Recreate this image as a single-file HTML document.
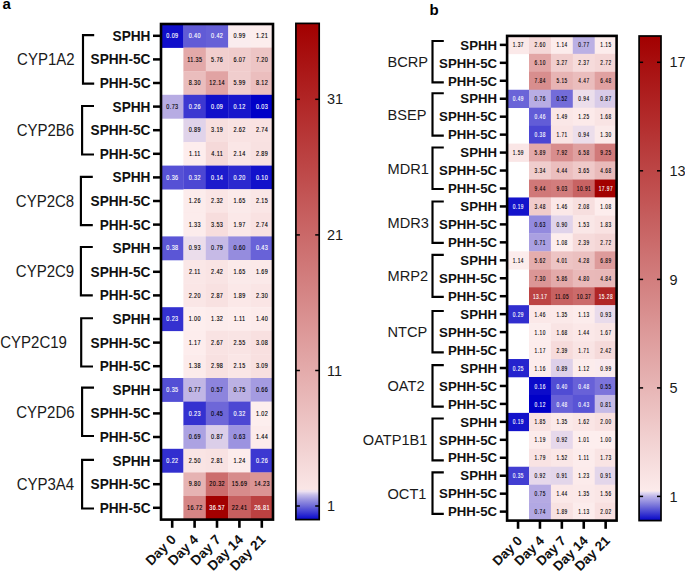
<!DOCTYPE html>
<html><head><meta charset="utf-8"><style>
html,body{margin:0;padding:0;background:#fff;}
body{width:685px;height:571px;overflow:hidden;}
svg{display:block;}
text{font-family:"Liberation Sans",sans-serif;}
.cv{text-anchor:middle;}
.rl{text-anchor:end;font-weight:bold;fill:#111;}
.gl{text-anchor:end;fill:#1a1a1a;}
.dl{text-anchor:end;font-weight:bold;fill:#111;}
.cl{fill:#1a1a1a;}
.pl{font-weight:bold;font-size:15px;fill:#000;}
</style></head><body>
<svg width="685" height="571" viewBox="0 0 685 571">
<text x="2.6" y="8.8" class="pl">a</text>
<text x="429.4" y="14.7" class="pl">b</text>
<rect x="161.00" y="24.00" width="22.70" height="23.90" fill="#100fca"/>
<rect x="183.40" y="24.00" width="22.70" height="23.90" fill="#615bd6"/>
<rect x="205.80" y="24.00" width="22.70" height="23.90" fill="#6660d7"/>
<rect x="228.20" y="24.00" width="22.70" height="23.90" fill="#faecee"/>
<rect x="250.60" y="24.00" width="22.70" height="23.90" fill="#fceded"/>
<rect x="183.40" y="47.60" width="22.70" height="23.90" fill="#e3a9a9"/>
<rect x="205.80" y="47.60" width="22.70" height="23.90" fill="#f1cece"/>
<rect x="228.20" y="47.60" width="22.70" height="23.90" fill="#f0cccc"/>
<rect x="250.60" y="47.60" width="22.70" height="23.90" fill="#edc5c5"/>
<rect x="183.40" y="71.20" width="22.70" height="23.90" fill="#eabdbd"/>
<rect x="205.80" y="71.20" width="22.70" height="23.90" fill="#e1a3a3"/>
<rect x="228.20" y="71.20" width="22.70" height="23.90" fill="#f0cdcd"/>
<rect x="250.60" y="71.20" width="22.70" height="23.90" fill="#ebbebe"/>
<rect x="161.00" y="94.80" width="22.70" height="23.90" fill="#b7ace3"/>
<rect x="183.40" y="94.80" width="22.70" height="23.90" fill="#3c38d1"/>
<rect x="205.80" y="94.80" width="22.70" height="23.90" fill="#100fca"/>
<rect x="228.20" y="94.80" width="22.70" height="23.90" fill="#1716cc"/>
<rect x="250.60" y="94.80" width="22.70" height="23.90" fill="#0000c8"/>
<rect x="183.40" y="118.40" width="22.70" height="23.90" fill="#e0d3ea"/>
<rect x="205.80" y="118.40" width="22.70" height="23.90" fill="#f7dfdf"/>
<rect x="228.20" y="118.40" width="22.70" height="23.90" fill="#f9e3e3"/>
<rect x="250.60" y="118.40" width="22.70" height="23.90" fill="#f9e2e2"/>
<rect x="183.40" y="142.00" width="22.70" height="23.90" fill="#fdeded"/>
<rect x="205.80" y="142.00" width="22.70" height="23.90" fill="#f5d9d9"/>
<rect x="228.20" y="142.00" width="22.70" height="23.90" fill="#fae6e6"/>
<rect x="250.60" y="142.00" width="22.70" height="23.90" fill="#f8e1e1"/>
<rect x="161.00" y="165.60" width="22.70" height="23.90" fill="#5651d5"/>
<rect x="183.40" y="165.60" width="22.70" height="23.90" fill="#4c47d3"/>
<rect x="205.80" y="165.60" width="22.70" height="23.90" fill="#1d1bcc"/>
<rect x="228.20" y="165.60" width="22.70" height="23.90" fill="#2c2acf"/>
<rect x="250.60" y="165.60" width="22.70" height="23.90" fill="#1211cb"/>
<rect x="183.40" y="189.20" width="22.70" height="23.90" fill="#fcecec"/>
<rect x="205.80" y="189.20" width="22.70" height="23.90" fill="#fae5e5"/>
<rect x="228.20" y="189.20" width="22.70" height="23.90" fill="#fbeaea"/>
<rect x="250.60" y="189.20" width="22.70" height="23.90" fill="#fae6e6"/>
<rect x="183.40" y="212.80" width="22.70" height="23.90" fill="#fcecec"/>
<rect x="205.80" y="212.80" width="22.70" height="23.90" fill="#f7dddd"/>
<rect x="228.20" y="212.80" width="22.70" height="23.90" fill="#fbe8e8"/>
<rect x="250.60" y="212.80" width="22.70" height="23.90" fill="#f9e2e2"/>
<rect x="161.00" y="236.40" width="22.70" height="23.90" fill="#5b56d6"/>
<rect x="183.40" y="236.40" width="22.70" height="23.90" fill="#ebddeb"/>
<rect x="205.80" y="236.40" width="22.70" height="23.90" fill="#c6bae6"/>
<rect x="228.20" y="236.40" width="22.70" height="23.90" fill="#958cde"/>
<rect x="250.60" y="236.40" width="22.70" height="23.90" fill="#6862d8"/>
<rect x="183.40" y="260.00" width="22.70" height="23.90" fill="#fae7e7"/>
<rect x="205.80" y="260.00" width="22.70" height="23.90" fill="#f9e4e4"/>
<rect x="228.20" y="260.00" width="22.70" height="23.90" fill="#fbeaea"/>
<rect x="250.60" y="260.00" width="22.70" height="23.90" fill="#fbe9e9"/>
<rect x="183.40" y="283.60" width="22.70" height="23.90" fill="#fae6e6"/>
<rect x="205.80" y="283.60" width="22.70" height="23.90" fill="#f8e1e1"/>
<rect x="228.20" y="283.60" width="22.70" height="23.90" fill="#fbe8e8"/>
<rect x="250.60" y="283.60" width="22.70" height="23.90" fill="#fae5e5"/>
<rect x="161.00" y="307.20" width="22.70" height="23.90" fill="#3431d0"/>
<rect x="183.40" y="307.20" width="22.70" height="23.90" fill="#fdeeee"/>
<rect x="205.80" y="307.20" width="22.70" height="23.90" fill="#fcecec"/>
<rect x="228.20" y="307.20" width="22.70" height="23.90" fill="#fdeded"/>
<rect x="250.60" y="307.20" width="22.70" height="23.90" fill="#fcebeb"/>
<rect x="183.40" y="330.80" width="22.70" height="23.90" fill="#fdeded"/>
<rect x="205.80" y="330.80" width="22.70" height="23.90" fill="#f9e3e3"/>
<rect x="228.20" y="330.80" width="22.70" height="23.90" fill="#f9e4e4"/>
<rect x="250.60" y="330.80" width="22.70" height="23.90" fill="#f8e0e0"/>
<rect x="183.40" y="354.40" width="22.70" height="23.90" fill="#fcebeb"/>
<rect x="205.80" y="354.40" width="22.70" height="23.90" fill="#f8e1e1"/>
<rect x="228.20" y="354.40" width="22.70" height="23.90" fill="#fae6e6"/>
<rect x="250.60" y="354.40" width="22.70" height="23.90" fill="#f8e0e0"/>
<rect x="161.00" y="378.00" width="22.70" height="23.90" fill="#534fd5"/>
<rect x="183.40" y="378.00" width="22.70" height="23.90" fill="#c1b6e5"/>
<rect x="205.80" y="378.00" width="22.70" height="23.90" fill="#8d84dd"/>
<rect x="228.20" y="378.00" width="22.70" height="23.90" fill="#bcb1e4"/>
<rect x="250.60" y="378.00" width="22.70" height="23.90" fill="#a49be1"/>
<rect x="183.40" y="401.60" width="22.70" height="23.90" fill="#3431d0"/>
<rect x="205.80" y="401.60" width="22.70" height="23.90" fill="#6e67d8"/>
<rect x="228.20" y="401.60" width="22.70" height="23.90" fill="#4c47d3"/>
<rect x="250.60" y="401.60" width="22.70" height="23.90" fill="#fdeeee"/>
<rect x="183.40" y="425.20" width="22.70" height="23.90" fill="#aca2e2"/>
<rect x="205.80" y="425.20" width="22.70" height="23.90" fill="#dbcee9"/>
<rect x="228.20" y="425.20" width="22.70" height="23.90" fill="#9c93e0"/>
<rect x="250.60" y="425.20" width="22.70" height="23.90" fill="#fcebeb"/>
<rect x="161.00" y="448.80" width="22.70" height="23.90" fill="#322fcf"/>
<rect x="183.40" y="448.80" width="22.70" height="23.90" fill="#f9e4e4"/>
<rect x="205.80" y="448.80" width="22.70" height="23.90" fill="#f8e2e2"/>
<rect x="228.20" y="448.80" width="22.70" height="23.90" fill="#fcecec"/>
<rect x="250.60" y="448.80" width="22.70" height="23.90" fill="#3c38d1"/>
<rect x="183.40" y="472.40" width="22.70" height="23.90" fill="#e6b3b3"/>
<rect x="205.80" y="472.40" width="22.70" height="23.90" fill="#cc6d6d"/>
<rect x="228.20" y="472.40" width="22.70" height="23.90" fill="#d78c8c"/>
<rect x="250.60" y="472.40" width="22.70" height="23.90" fill="#db9595"/>
<rect x="183.40" y="496.00" width="22.70" height="23.90" fill="#d58585"/>
<rect x="205.80" y="496.00" width="22.70" height="23.90" fill="#a20000"/>
<rect x="228.20" y="496.00" width="22.70" height="23.90" fill="#c65f5f"/>
<rect x="250.60" y="496.00" width="22.70" height="23.90" fill="#bb4141"/>
<text x="0" y="0" class="cv" fill="#fff" stroke="#fff" stroke-width="0.12" style="font-size:6.40px;letter-spacing:0.45px" transform="translate(172.39 38.09) scale(0.860 1)">0.09</text>
<text x="0" y="0" class="cv" fill="#fff" stroke="#fff" stroke-width="0.12" style="font-size:6.40px;letter-spacing:0.45px" transform="translate(194.79 38.09) scale(0.860 1)">0.40</text>
<text x="0" y="0" class="cv" fill="#fff" stroke="#fff" stroke-width="0.12" style="font-size:6.40px;letter-spacing:0.45px" transform="translate(217.19 38.09) scale(0.860 1)">0.42</text>
<text x="0" y="0" class="cv" fill="#000" stroke="#000" stroke-width="0.12" style="font-size:6.40px;letter-spacing:0.45px" transform="translate(239.59 38.09) scale(0.860 1)">0.99</text>
<text x="0" y="0" class="cv" fill="#000" stroke="#000" stroke-width="0.12" style="font-size:6.40px;letter-spacing:0.45px" transform="translate(261.99 38.09) scale(0.860 1)">1.21</text>
<text x="0" y="0" class="cv" fill="#000" stroke="#000" stroke-width="0.12" style="font-size:6.40px;letter-spacing:0.45px" transform="translate(194.79 61.69) scale(0.860 1)">11.35</text>
<text x="0" y="0" class="cv" fill="#000" stroke="#000" stroke-width="0.12" style="font-size:6.40px;letter-spacing:0.45px" transform="translate(217.19 61.69) scale(0.860 1)">5.76</text>
<text x="0" y="0" class="cv" fill="#000" stroke="#000" stroke-width="0.12" style="font-size:6.40px;letter-spacing:0.45px" transform="translate(239.59 61.69) scale(0.860 1)">6.07</text>
<text x="0" y="0" class="cv" fill="#000" stroke="#000" stroke-width="0.12" style="font-size:6.40px;letter-spacing:0.45px" transform="translate(261.99 61.69) scale(0.860 1)">7.20</text>
<text x="0" y="0" class="cv" fill="#000" stroke="#000" stroke-width="0.12" style="font-size:6.40px;letter-spacing:0.45px" transform="translate(194.79 85.29) scale(0.860 1)">8.30</text>
<text x="0" y="0" class="cv" fill="#000" stroke="#000" stroke-width="0.12" style="font-size:6.40px;letter-spacing:0.45px" transform="translate(217.19 85.29) scale(0.860 1)">12.14</text>
<text x="0" y="0" class="cv" fill="#000" stroke="#000" stroke-width="0.12" style="font-size:6.40px;letter-spacing:0.45px" transform="translate(239.59 85.29) scale(0.860 1)">5.99</text>
<text x="0" y="0" class="cv" fill="#000" stroke="#000" stroke-width="0.12" style="font-size:6.40px;letter-spacing:0.45px" transform="translate(261.99 85.29) scale(0.860 1)">8.12</text>
<text x="0" y="0" class="cv" fill="#000" stroke="#000" stroke-width="0.12" style="font-size:6.40px;letter-spacing:0.45px" transform="translate(172.39 108.89) scale(0.860 1)">0.73</text>
<text x="0" y="0" class="cv" fill="#fff" stroke="#fff" stroke-width="0.12" style="font-size:6.40px;letter-spacing:0.45px" transform="translate(194.79 108.89) scale(0.860 1)">0.26</text>
<text x="0" y="0" class="cv" fill="#fff" stroke="#fff" stroke-width="0.12" style="font-size:6.40px;letter-spacing:0.45px" transform="translate(217.19 108.89) scale(0.860 1)">0.09</text>
<text x="0" y="0" class="cv" fill="#fff" stroke="#fff" stroke-width="0.12" style="font-size:6.40px;letter-spacing:0.45px" transform="translate(239.59 108.89) scale(0.860 1)">0.12</text>
<text x="0" y="0" class="cv" fill="#fff" stroke="#fff" stroke-width="0.12" style="font-size:6.40px;letter-spacing:0.45px" transform="translate(261.99 108.89) scale(0.860 1)">0.03</text>
<text x="0" y="0" class="cv" fill="#000" stroke="#000" stroke-width="0.12" style="font-size:6.40px;letter-spacing:0.45px" transform="translate(194.79 132.49) scale(0.860 1)">0.89</text>
<text x="0" y="0" class="cv" fill="#000" stroke="#000" stroke-width="0.12" style="font-size:6.40px;letter-spacing:0.45px" transform="translate(217.19 132.49) scale(0.860 1)">3.19</text>
<text x="0" y="0" class="cv" fill="#000" stroke="#000" stroke-width="0.12" style="font-size:6.40px;letter-spacing:0.45px" transform="translate(239.59 132.49) scale(0.860 1)">2.62</text>
<text x="0" y="0" class="cv" fill="#000" stroke="#000" stroke-width="0.12" style="font-size:6.40px;letter-spacing:0.45px" transform="translate(261.99 132.49) scale(0.860 1)">2.74</text>
<text x="0" y="0" class="cv" fill="#000" stroke="#000" stroke-width="0.12" style="font-size:6.40px;letter-spacing:0.45px" transform="translate(194.79 156.09) scale(0.860 1)">1.11</text>
<text x="0" y="0" class="cv" fill="#000" stroke="#000" stroke-width="0.12" style="font-size:6.40px;letter-spacing:0.45px" transform="translate(217.19 156.09) scale(0.860 1)">4.11</text>
<text x="0" y="0" class="cv" fill="#000" stroke="#000" stroke-width="0.12" style="font-size:6.40px;letter-spacing:0.45px" transform="translate(239.59 156.09) scale(0.860 1)">2.14</text>
<text x="0" y="0" class="cv" fill="#000" stroke="#000" stroke-width="0.12" style="font-size:6.40px;letter-spacing:0.45px" transform="translate(261.99 156.09) scale(0.860 1)">2.89</text>
<text x="0" y="0" class="cv" fill="#fff" stroke="#fff" stroke-width="0.12" style="font-size:6.40px;letter-spacing:0.45px" transform="translate(172.39 179.69) scale(0.860 1)">0.36</text>
<text x="0" y="0" class="cv" fill="#fff" stroke="#fff" stroke-width="0.12" style="font-size:6.40px;letter-spacing:0.45px" transform="translate(194.79 179.69) scale(0.860 1)">0.32</text>
<text x="0" y="0" class="cv" fill="#fff" stroke="#fff" stroke-width="0.12" style="font-size:6.40px;letter-spacing:0.45px" transform="translate(217.19 179.69) scale(0.860 1)">0.14</text>
<text x="0" y="0" class="cv" fill="#fff" stroke="#fff" stroke-width="0.12" style="font-size:6.40px;letter-spacing:0.45px" transform="translate(239.59 179.69) scale(0.860 1)">0.20</text>
<text x="0" y="0" class="cv" fill="#fff" stroke="#fff" stroke-width="0.12" style="font-size:6.40px;letter-spacing:0.45px" transform="translate(261.99 179.69) scale(0.860 1)">0.10</text>
<text x="0" y="0" class="cv" fill="#000" stroke="#000" stroke-width="0.12" style="font-size:6.40px;letter-spacing:0.45px" transform="translate(194.79 203.29) scale(0.860 1)">1.26</text>
<text x="0" y="0" class="cv" fill="#000" stroke="#000" stroke-width="0.12" style="font-size:6.40px;letter-spacing:0.45px" transform="translate(217.19 203.29) scale(0.860 1)">2.32</text>
<text x="0" y="0" class="cv" fill="#000" stroke="#000" stroke-width="0.12" style="font-size:6.40px;letter-spacing:0.45px" transform="translate(239.59 203.29) scale(0.860 1)">1.65</text>
<text x="0" y="0" class="cv" fill="#000" stroke="#000" stroke-width="0.12" style="font-size:6.40px;letter-spacing:0.45px" transform="translate(261.99 203.29) scale(0.860 1)">2.15</text>
<text x="0" y="0" class="cv" fill="#000" stroke="#000" stroke-width="0.12" style="font-size:6.40px;letter-spacing:0.45px" transform="translate(194.79 226.89) scale(0.860 1)">1.33</text>
<text x="0" y="0" class="cv" fill="#000" stroke="#000" stroke-width="0.12" style="font-size:6.40px;letter-spacing:0.45px" transform="translate(217.19 226.89) scale(0.860 1)">3.53</text>
<text x="0" y="0" class="cv" fill="#000" stroke="#000" stroke-width="0.12" style="font-size:6.40px;letter-spacing:0.45px" transform="translate(239.59 226.89) scale(0.860 1)">1.97</text>
<text x="0" y="0" class="cv" fill="#000" stroke="#000" stroke-width="0.12" style="font-size:6.40px;letter-spacing:0.45px" transform="translate(261.99 226.89) scale(0.860 1)">2.74</text>
<text x="0" y="0" class="cv" fill="#fff" stroke="#fff" stroke-width="0.12" style="font-size:6.40px;letter-spacing:0.45px" transform="translate(172.39 250.49) scale(0.860 1)">0.38</text>
<text x="0" y="0" class="cv" fill="#000" stroke="#000" stroke-width="0.12" style="font-size:6.40px;letter-spacing:0.45px" transform="translate(194.79 250.49) scale(0.860 1)">0.93</text>
<text x="0" y="0" class="cv" fill="#000" stroke="#000" stroke-width="0.12" style="font-size:6.40px;letter-spacing:0.45px" transform="translate(217.19 250.49) scale(0.860 1)">0.79</text>
<text x="0" y="0" class="cv" fill="#000" stroke="#000" stroke-width="0.12" style="font-size:6.40px;letter-spacing:0.45px" transform="translate(239.59 250.49) scale(0.860 1)">0.60</text>
<text x="0" y="0" class="cv" fill="#fff" stroke="#fff" stroke-width="0.12" style="font-size:6.40px;letter-spacing:0.45px" transform="translate(261.99 250.49) scale(0.860 1)">0.43</text>
<text x="0" y="0" class="cv" fill="#000" stroke="#000" stroke-width="0.12" style="font-size:6.40px;letter-spacing:0.45px" transform="translate(194.79 274.09) scale(0.860 1)">2.11</text>
<text x="0" y="0" class="cv" fill="#000" stroke="#000" stroke-width="0.12" style="font-size:6.40px;letter-spacing:0.45px" transform="translate(217.19 274.09) scale(0.860 1)">2.42</text>
<text x="0" y="0" class="cv" fill="#000" stroke="#000" stroke-width="0.12" style="font-size:6.40px;letter-spacing:0.45px" transform="translate(239.59 274.09) scale(0.860 1)">1.65</text>
<text x="0" y="0" class="cv" fill="#000" stroke="#000" stroke-width="0.12" style="font-size:6.40px;letter-spacing:0.45px" transform="translate(261.99 274.09) scale(0.860 1)">1.69</text>
<text x="0" y="0" class="cv" fill="#000" stroke="#000" stroke-width="0.12" style="font-size:6.40px;letter-spacing:0.45px" transform="translate(194.79 297.69) scale(0.860 1)">2.20</text>
<text x="0" y="0" class="cv" fill="#000" stroke="#000" stroke-width="0.12" style="font-size:6.40px;letter-spacing:0.45px" transform="translate(217.19 297.69) scale(0.860 1)">2.87</text>
<text x="0" y="0" class="cv" fill="#000" stroke="#000" stroke-width="0.12" style="font-size:6.40px;letter-spacing:0.45px" transform="translate(239.59 297.69) scale(0.860 1)">1.89</text>
<text x="0" y="0" class="cv" fill="#000" stroke="#000" stroke-width="0.12" style="font-size:6.40px;letter-spacing:0.45px" transform="translate(261.99 297.69) scale(0.860 1)">2.30</text>
<text x="0" y="0" class="cv" fill="#fff" stroke="#fff" stroke-width="0.12" style="font-size:6.40px;letter-spacing:0.45px" transform="translate(172.39 321.29) scale(0.860 1)">0.23</text>
<text x="0" y="0" class="cv" fill="#000" stroke="#000" stroke-width="0.12" style="font-size:6.40px;letter-spacing:0.45px" transform="translate(194.79 321.29) scale(0.860 1)">1.00</text>
<text x="0" y="0" class="cv" fill="#000" stroke="#000" stroke-width="0.12" style="font-size:6.40px;letter-spacing:0.45px" transform="translate(217.19 321.29) scale(0.860 1)">1.32</text>
<text x="0" y="0" class="cv" fill="#000" stroke="#000" stroke-width="0.12" style="font-size:6.40px;letter-spacing:0.45px" transform="translate(239.59 321.29) scale(0.860 1)">1.11</text>
<text x="0" y="0" class="cv" fill="#000" stroke="#000" stroke-width="0.12" style="font-size:6.40px;letter-spacing:0.45px" transform="translate(261.99 321.29) scale(0.860 1)">1.40</text>
<text x="0" y="0" class="cv" fill="#000" stroke="#000" stroke-width="0.12" style="font-size:6.40px;letter-spacing:0.45px" transform="translate(194.79 344.89) scale(0.860 1)">1.17</text>
<text x="0" y="0" class="cv" fill="#000" stroke="#000" stroke-width="0.12" style="font-size:6.40px;letter-spacing:0.45px" transform="translate(217.19 344.89) scale(0.860 1)">2.67</text>
<text x="0" y="0" class="cv" fill="#000" stroke="#000" stroke-width="0.12" style="font-size:6.40px;letter-spacing:0.45px" transform="translate(239.59 344.89) scale(0.860 1)">2.55</text>
<text x="0" y="0" class="cv" fill="#000" stroke="#000" stroke-width="0.12" style="font-size:6.40px;letter-spacing:0.45px" transform="translate(261.99 344.89) scale(0.860 1)">3.08</text>
<text x="0" y="0" class="cv" fill="#000" stroke="#000" stroke-width="0.12" style="font-size:6.40px;letter-spacing:0.45px" transform="translate(194.79 368.49) scale(0.860 1)">1.38</text>
<text x="0" y="0" class="cv" fill="#000" stroke="#000" stroke-width="0.12" style="font-size:6.40px;letter-spacing:0.45px" transform="translate(217.19 368.49) scale(0.860 1)">2.98</text>
<text x="0" y="0" class="cv" fill="#000" stroke="#000" stroke-width="0.12" style="font-size:6.40px;letter-spacing:0.45px" transform="translate(239.59 368.49) scale(0.860 1)">2.15</text>
<text x="0" y="0" class="cv" fill="#000" stroke="#000" stroke-width="0.12" style="font-size:6.40px;letter-spacing:0.45px" transform="translate(261.99 368.49) scale(0.860 1)">3.09</text>
<text x="0" y="0" class="cv" fill="#fff" stroke="#fff" stroke-width="0.12" style="font-size:6.40px;letter-spacing:0.45px" transform="translate(172.39 392.09) scale(0.860 1)">0.35</text>
<text x="0" y="0" class="cv" fill="#000" stroke="#000" stroke-width="0.12" style="font-size:6.40px;letter-spacing:0.45px" transform="translate(194.79 392.09) scale(0.860 1)">0.77</text>
<text x="0" y="0" class="cv" fill="#000" stroke="#000" stroke-width="0.12" style="font-size:6.40px;letter-spacing:0.45px" transform="translate(217.19 392.09) scale(0.860 1)">0.57</text>
<text x="0" y="0" class="cv" fill="#000" stroke="#000" stroke-width="0.12" style="font-size:6.40px;letter-spacing:0.45px" transform="translate(239.59 392.09) scale(0.860 1)">0.75</text>
<text x="0" y="0" class="cv" fill="#000" stroke="#000" stroke-width="0.12" style="font-size:6.40px;letter-spacing:0.45px" transform="translate(261.99 392.09) scale(0.860 1)">0.66</text>
<text x="0" y="0" class="cv" fill="#fff" stroke="#fff" stroke-width="0.12" style="font-size:6.40px;letter-spacing:0.45px" transform="translate(194.79 415.69) scale(0.860 1)">0.23</text>
<text x="0" y="0" class="cv" fill="#000" stroke="#000" stroke-width="0.12" style="font-size:6.40px;letter-spacing:0.45px" transform="translate(217.19 415.69) scale(0.860 1)">0.45</text>
<text x="0" y="0" class="cv" fill="#fff" stroke="#fff" stroke-width="0.12" style="font-size:6.40px;letter-spacing:0.45px" transform="translate(239.59 415.69) scale(0.860 1)">0.32</text>
<text x="0" y="0" class="cv" fill="#000" stroke="#000" stroke-width="0.12" style="font-size:6.40px;letter-spacing:0.45px" transform="translate(261.99 415.69) scale(0.860 1)">1.02</text>
<text x="0" y="0" class="cv" fill="#000" stroke="#000" stroke-width="0.12" style="font-size:6.40px;letter-spacing:0.45px" transform="translate(194.79 439.29) scale(0.860 1)">0.69</text>
<text x="0" y="0" class="cv" fill="#000" stroke="#000" stroke-width="0.12" style="font-size:6.40px;letter-spacing:0.45px" transform="translate(217.19 439.29) scale(0.860 1)">0.87</text>
<text x="0" y="0" class="cv" fill="#000" stroke="#000" stroke-width="0.12" style="font-size:6.40px;letter-spacing:0.45px" transform="translate(239.59 439.29) scale(0.860 1)">0.63</text>
<text x="0" y="0" class="cv" fill="#000" stroke="#000" stroke-width="0.12" style="font-size:6.40px;letter-spacing:0.45px" transform="translate(261.99 439.29) scale(0.860 1)">1.44</text>
<text x="0" y="0" class="cv" fill="#fff" stroke="#fff" stroke-width="0.12" style="font-size:6.40px;letter-spacing:0.45px" transform="translate(172.39 462.89) scale(0.860 1)">0.22</text>
<text x="0" y="0" class="cv" fill="#000" stroke="#000" stroke-width="0.12" style="font-size:6.40px;letter-spacing:0.45px" transform="translate(194.79 462.89) scale(0.860 1)">2.50</text>
<text x="0" y="0" class="cv" fill="#000" stroke="#000" stroke-width="0.12" style="font-size:6.40px;letter-spacing:0.45px" transform="translate(217.19 462.89) scale(0.860 1)">2.81</text>
<text x="0" y="0" class="cv" fill="#000" stroke="#000" stroke-width="0.12" style="font-size:6.40px;letter-spacing:0.45px" transform="translate(239.59 462.89) scale(0.860 1)">1.24</text>
<text x="0" y="0" class="cv" fill="#fff" stroke="#fff" stroke-width="0.12" style="font-size:6.40px;letter-spacing:0.45px" transform="translate(261.99 462.89) scale(0.860 1)">0.26</text>
<text x="0" y="0" class="cv" fill="#000" stroke="#000" stroke-width="0.12" style="font-size:6.40px;letter-spacing:0.45px" transform="translate(194.79 486.49) scale(0.860 1)">9.80</text>
<text x="0" y="0" class="cv" fill="#000" stroke="#000" stroke-width="0.12" style="font-size:6.40px;letter-spacing:0.45px" transform="translate(217.19 486.49) scale(0.860 1)">20.32</text>
<text x="0" y="0" class="cv" fill="#000" stroke="#000" stroke-width="0.12" style="font-size:6.40px;letter-spacing:0.45px" transform="translate(239.59 486.49) scale(0.860 1)">15.69</text>
<text x="0" y="0" class="cv" fill="#000" stroke="#000" stroke-width="0.12" style="font-size:6.40px;letter-spacing:0.45px" transform="translate(261.99 486.49) scale(0.860 1)">14.23</text>
<text x="0" y="0" class="cv" fill="#000" stroke="#000" stroke-width="0.12" style="font-size:6.40px;letter-spacing:0.45px" transform="translate(194.79 510.09) scale(0.860 1)">16.72</text>
<text x="0" y="0" class="cv" fill="#fff" stroke="#fff" stroke-width="0.12" style="font-size:6.40px;letter-spacing:0.45px" transform="translate(217.19 510.09) scale(0.860 1)">36.57</text>
<text x="0" y="0" class="cv" fill="#000" stroke="#000" stroke-width="0.12" style="font-size:6.40px;letter-spacing:0.45px" transform="translate(239.59 510.09) scale(0.860 1)">22.41</text>
<text x="0" y="0" class="cv" fill="#fff" stroke="#fff" stroke-width="0.12" style="font-size:6.40px;letter-spacing:0.45px" transform="translate(261.99 510.09) scale(0.860 1)">26.81</text>
<rect x="161.00" y="24.00" width="112.00" height="495.60" fill="none" stroke="#000" stroke-width="2.6"/>
<line x1="153.00" y1="35.80" x2="161.00" y2="35.80" stroke="#000" stroke-width="2.5"/>
<text x="0" y="0" class="rl" style="font-size:14.10px" transform="translate(150.50 40.85) scale(0.970 1)">SPHH</text>
<line x1="153.00" y1="59.40" x2="161.00" y2="59.40" stroke="#000" stroke-width="2.5"/>
<text x="0" y="0" class="rl" style="font-size:14.10px" transform="translate(150.50 64.45) scale(0.970 1)">SPHH-5C</text>
<line x1="153.00" y1="83.00" x2="161.00" y2="83.00" stroke="#000" stroke-width="2.5"/>
<text x="0" y="0" class="rl" style="font-size:14.10px" transform="translate(150.50 88.05) scale(0.970 1)">PHH-5C</text>
<path d="M94.20 35.05 H83.00 V83.60 H94.20" fill="none" stroke="#000" stroke-width="2.15"/>
<text x="0" y="0" class="gl" style="font-size:16.40px" transform="translate(74.60 65.20) scale(0.915 1)">CYP1A2</text>
<line x1="153.00" y1="106.60" x2="161.00" y2="106.60" stroke="#000" stroke-width="2.5"/>
<text x="0" y="0" class="rl" style="font-size:14.10px" transform="translate(150.50 111.65) scale(0.970 1)">SPHH</text>
<line x1="153.00" y1="130.20" x2="161.00" y2="130.20" stroke="#000" stroke-width="2.5"/>
<text x="0" y="0" class="rl" style="font-size:14.10px" transform="translate(150.50 135.25) scale(0.970 1)">SPHH-5C</text>
<line x1="153.00" y1="153.80" x2="161.00" y2="153.80" stroke="#000" stroke-width="2.5"/>
<text x="0" y="0" class="rl" style="font-size:14.10px" transform="translate(150.50 158.85) scale(0.970 1)">PHH-5C</text>
<path d="M94.00 106.00 H82.10 V154.50 H94.00" fill="none" stroke="#000" stroke-width="2.15"/>
<text x="0" y="0" class="gl" style="font-size:16.40px" transform="translate(74.20 136.12) scale(0.915 1)">CYP2B6</text>
<line x1="153.00" y1="177.40" x2="161.00" y2="177.40" stroke="#000" stroke-width="2.5"/>
<text x="0" y="0" class="rl" style="font-size:14.10px" transform="translate(150.50 182.45) scale(0.970 1)">SPHH</text>
<line x1="153.00" y1="201.00" x2="161.00" y2="201.00" stroke="#000" stroke-width="2.5"/>
<text x="0" y="0" class="rl" style="font-size:14.10px" transform="translate(150.50 206.05) scale(0.970 1)">SPHH-5C</text>
<line x1="153.00" y1="224.60" x2="161.00" y2="224.60" stroke="#000" stroke-width="2.5"/>
<text x="0" y="0" class="rl" style="font-size:14.10px" transform="translate(150.50 229.65) scale(0.970 1)">PHH-5C</text>
<path d="M92.80 176.90 H80.90 V225.10 H92.80" fill="none" stroke="#000" stroke-width="2.15"/>
<text x="0" y="0" class="gl" style="font-size:16.40px" transform="translate(74.20 206.87) scale(0.915 1)">CYP2C8</text>
<line x1="153.00" y1="248.20" x2="161.00" y2="248.20" stroke="#000" stroke-width="2.5"/>
<text x="0" y="0" class="rl" style="font-size:14.10px" transform="translate(150.50 253.25) scale(0.970 1)">SPHH</text>
<line x1="153.00" y1="271.80" x2="161.00" y2="271.80" stroke="#000" stroke-width="2.5"/>
<text x="0" y="0" class="rl" style="font-size:14.10px" transform="translate(150.50 276.85) scale(0.970 1)">SPHH-5C</text>
<line x1="153.00" y1="295.40" x2="161.00" y2="295.40" stroke="#000" stroke-width="2.5"/>
<text x="0" y="0" class="rl" style="font-size:14.10px" transform="translate(150.50 300.45) scale(0.970 1)">PHH-5C</text>
<path d="M92.80 247.00 H80.90 V295.30 H92.80" fill="none" stroke="#000" stroke-width="2.15"/>
<text x="0" y="0" class="gl" style="font-size:16.40px" transform="translate(74.20 277.02) scale(0.915 1)">CYP2C9</text>
<line x1="153.00" y1="319.00" x2="161.00" y2="319.00" stroke="#000" stroke-width="2.5"/>
<text x="0" y="0" class="rl" style="font-size:14.10px" transform="translate(150.50 324.05) scale(0.970 1)">SPHH</text>
<line x1="153.00" y1="342.60" x2="161.00" y2="342.60" stroke="#000" stroke-width="2.5"/>
<text x="0" y="0" class="rl" style="font-size:14.10px" transform="translate(150.50 347.65) scale(0.970 1)">SPHH-5C</text>
<line x1="153.00" y1="366.20" x2="161.00" y2="366.20" stroke="#000" stroke-width="2.5"/>
<text x="0" y="0" class="rl" style="font-size:14.10px" transform="translate(150.50 371.25) scale(0.970 1)">PHH-5C</text>
<path d="M93.00 318.20 H81.20 V366.50 H93.00" fill="none" stroke="#000" stroke-width="2.15"/>
<text x="0" y="0" class="gl" style="font-size:16.40px" transform="translate(66.90 348.22) scale(0.915 1)">CYP2C19</text>
<line x1="153.00" y1="389.80" x2="161.00" y2="389.80" stroke="#000" stroke-width="2.5"/>
<text x="0" y="0" class="rl" style="font-size:14.10px" transform="translate(150.50 394.85) scale(0.970 1)">SPHH</text>
<line x1="153.00" y1="413.40" x2="161.00" y2="413.40" stroke="#000" stroke-width="2.5"/>
<text x="0" y="0" class="rl" style="font-size:14.10px" transform="translate(150.50 418.45) scale(0.970 1)">SPHH-5C</text>
<line x1="153.00" y1="437.00" x2="161.00" y2="437.00" stroke="#000" stroke-width="2.5"/>
<text x="0" y="0" class="rl" style="font-size:14.10px" transform="translate(150.50 442.05) scale(0.970 1)">PHH-5C</text>
<path d="M94.00 387.60 H82.10 V436.00 H94.00" fill="none" stroke="#000" stroke-width="2.15"/>
<text x="0" y="0" class="gl" style="font-size:16.40px" transform="translate(74.60 417.67) scale(0.915 1)">CYP2D6</text>
<line x1="153.00" y1="460.60" x2="161.00" y2="460.60" stroke="#000" stroke-width="2.5"/>
<text x="0" y="0" class="rl" style="font-size:14.10px" transform="translate(150.50 465.65) scale(0.970 1)">SPHH</text>
<line x1="153.00" y1="484.20" x2="161.00" y2="484.20" stroke="#000" stroke-width="2.5"/>
<text x="0" y="0" class="rl" style="font-size:14.10px" transform="translate(150.50 489.25) scale(0.970 1)">SPHH-5C</text>
<line x1="153.00" y1="507.80" x2="161.00" y2="507.80" stroke="#000" stroke-width="2.5"/>
<text x="0" y="0" class="rl" style="font-size:14.10px" transform="translate(150.50 512.85) scale(0.970 1)">PHH-5C</text>
<path d="M94.00 459.80 H82.10 V508.50 H94.00" fill="none" stroke="#000" stroke-width="2.15"/>
<text x="0" y="0" class="gl" style="font-size:16.40px" transform="translate(74.20 490.02) scale(0.915 1)">CYP3A4</text>
<line x1="172.20" y1="519.60" x2="172.20" y2="527.80" stroke="#000" stroke-width="2.6"/>
<text x="0" y="0" class="dl" style="font-size:13.60px" transform="translate(176.80 540.50) rotate(-45)">Day 0</text>
<line x1="194.60" y1="519.60" x2="194.60" y2="527.80" stroke="#000" stroke-width="2.6"/>
<text x="0" y="0" class="dl" style="font-size:13.60px" transform="translate(199.20 540.50) rotate(-45)">Day 4</text>
<line x1="217.00" y1="519.60" x2="217.00" y2="527.80" stroke="#000" stroke-width="2.6"/>
<text x="0" y="0" class="dl" style="font-size:13.60px" transform="translate(221.60 540.50) rotate(-45)">Day 7</text>
<line x1="239.40" y1="519.60" x2="239.40" y2="527.80" stroke="#000" stroke-width="2.6"/>
<text x="0" y="0" class="dl" style="font-size:13.60px" transform="translate(244.00 540.50) rotate(-45)">Day 14</text>
<line x1="261.80" y1="519.60" x2="261.80" y2="527.80" stroke="#000" stroke-width="2.6"/>
<text x="0" y="0" class="dl" style="font-size:13.60px" transform="translate(266.40 540.50) rotate(-45)">Day 21</text>
<defs><linearGradient id="g161" x1="0" y1="0" x2="0" y2="1"><stop offset="0.0000" stop-color="#a20000"/><stop offset="0.0782" stop-color="#a91313"/><stop offset="0.1564" stop-color="#b12626"/><stop offset="0.2346" stop-color="#b83939"/><stop offset="0.3128" stop-color="#bf4c4c"/><stop offset="0.3910" stop-color="#c76060"/><stop offset="0.4692" stop-color="#ce7373"/><stop offset="0.5474" stop-color="#d58686"/><stop offset="0.6256" stop-color="#dd9999"/><stop offset="0.7037" stop-color="#e4acac"/><stop offset="0.7819" stop-color="#ebbfbf"/><stop offset="0.8601" stop-color="#f2d2d2"/><stop offset="0.9383" stop-color="#fae6e6"/><stop offset="0.9434" stop-color="#ece0f0"/><stop offset="0.9504" stop-color="#c4bce9"/><stop offset="0.9605" stop-color="#9a94e0"/><stop offset="0.9726" stop-color="#6e6ad8"/><stop offset="1.0000" stop-color="#0606cc"/></linearGradient></defs>
<rect x="295.90" y="23.40" width="23.30" height="496.20" fill="url(#g161)" stroke="#000" stroke-width="1.7"/>
<line x1="295.90" y1="99.30" x2="299.90" y2="99.30" stroke="#000" stroke-width="1.5"/>
<line x1="315.20" y1="99.30" x2="319.20" y2="99.30" stroke="#000" stroke-width="1.5"/>
<text x="0" y="0" class="cl" style="font-size:15.40px" transform="translate(327.00 104.41) scale(0.940 1)">31</text>
<line x1="295.90" y1="234.90" x2="299.90" y2="234.90" stroke="#000" stroke-width="1.5"/>
<line x1="315.20" y1="234.90" x2="319.20" y2="234.90" stroke="#000" stroke-width="1.5"/>
<text x="0" y="0" class="cl" style="font-size:15.40px" transform="translate(327.00 240.01) scale(0.940 1)">21</text>
<line x1="295.90" y1="370.50" x2="299.90" y2="370.50" stroke="#000" stroke-width="1.5"/>
<line x1="315.20" y1="370.50" x2="319.20" y2="370.50" stroke="#000" stroke-width="1.5"/>
<text x="0" y="0" class="cl" style="font-size:15.40px" transform="translate(327.00 375.61) scale(0.940 1)">11</text>
<line x1="295.90" y1="506.00" x2="299.90" y2="506.00" stroke="#000" stroke-width="1.5"/>
<line x1="315.20" y1="506.00" x2="319.20" y2="506.00" stroke="#000" stroke-width="1.5"/>
<text x="0" y="0" class="cl" style="font-size:15.40px" transform="translate(327.00 511.11) scale(0.940 1)">1</text>
<rect x="507.10" y="35.90" width="22.20" height="18.25" fill="#fbe9e9"/>
<rect x="529.00" y="35.90" width="22.20" height="18.25" fill="#f4d8d8"/>
<rect x="550.90" y="35.90" width="22.20" height="18.25" fill="#fcecec"/>
<rect x="572.80" y="35.90" width="22.20" height="18.25" fill="#bbb0e4"/>
<rect x="594.70" y="35.90" width="22.20" height="18.25" fill="#fcecec"/>
<rect x="529.00" y="53.85" width="22.20" height="18.25" fill="#e2a6a6"/>
<rect x="550.90" y="53.85" width="22.20" height="18.25" fill="#f1cece"/>
<rect x="572.80" y="53.85" width="22.20" height="18.25" fill="#f6dbdb"/>
<rect x="594.70" y="53.85" width="22.20" height="18.25" fill="#f4d6d6"/>
<rect x="529.00" y="71.80" width="22.20" height="18.25" fill="#d88e8e"/>
<rect x="550.90" y="71.80" width="22.20" height="18.25" fill="#e7b4b4"/>
<rect x="572.80" y="71.80" width="22.20" height="18.25" fill="#eabdbd"/>
<rect x="594.70" y="71.80" width="22.20" height="18.25" fill="#e0a1a1"/>
<rect x="507.10" y="89.76" width="22.20" height="18.25" fill="#6a64d8"/>
<rect x="529.00" y="89.76" width="22.20" height="18.25" fill="#b8ade4"/>
<rect x="550.90" y="89.76" width="22.20" height="18.25" fill="#736cd9"/>
<rect x="572.80" y="89.76" width="22.20" height="18.25" fill="#ecdeeb"/>
<rect x="594.70" y="89.76" width="22.20" height="18.25" fill="#d8cbe8"/>
<rect x="529.00" y="107.71" width="22.20" height="18.25" fill="#625cd7"/>
<rect x="550.90" y="107.71" width="22.20" height="18.25" fill="#fae7e7"/>
<rect x="572.80" y="107.71" width="22.20" height="18.25" fill="#fceaea"/>
<rect x="594.70" y="107.71" width="22.20" height="18.25" fill="#f9e4e4"/>
<rect x="529.00" y="125.66" width="22.20" height="18.25" fill="#4b46d3"/>
<rect x="550.90" y="125.66" width="22.20" height="18.25" fill="#f9e4e4"/>
<rect x="572.80" y="125.66" width="22.20" height="18.25" fill="#ecdeeb"/>
<rect x="594.70" y="125.66" width="22.20" height="18.25" fill="#fbeaea"/>
<rect x="507.10" y="143.61" width="22.20" height="18.25" fill="#fae6e6"/>
<rect x="529.00" y="143.61" width="22.20" height="18.25" fill="#e3a9a9"/>
<rect x="550.90" y="143.61" width="22.20" height="18.25" fill="#d88d8d"/>
<rect x="572.80" y="143.61" width="22.20" height="18.25" fill="#dfa0a0"/>
<rect x="594.70" y="143.61" width="22.20" height="18.25" fill="#d17a7a"/>
<rect x="529.00" y="161.56" width="22.20" height="18.25" fill="#f0cdcd"/>
<rect x="550.90" y="161.56" width="22.20" height="18.25" fill="#ebbebe"/>
<rect x="572.80" y="161.56" width="22.20" height="18.25" fill="#efc9c9"/>
<rect x="594.70" y="161.56" width="22.20" height="18.25" fill="#e9baba"/>
<rect x="529.00" y="179.51" width="22.20" height="18.25" fill="#d07878"/>
<rect x="550.90" y="179.51" width="22.20" height="18.25" fill="#d27d7d"/>
<rect x="572.80" y="179.51" width="22.20" height="18.25" fill="#c86363"/>
<rect x="594.70" y="179.51" width="22.20" height="18.25" fill="#a20000"/>
<rect x="507.10" y="197.47" width="22.20" height="18.25" fill="#1413cb"/>
<rect x="529.00" y="197.47" width="22.20" height="18.25" fill="#f0cbcb"/>
<rect x="550.90" y="197.47" width="22.20" height="18.25" fill="#fbe8e8"/>
<rect x="572.80" y="197.47" width="22.20" height="18.25" fill="#f7dfdf"/>
<rect x="594.70" y="197.47" width="22.20" height="18.25" fill="#fdeded"/>
<rect x="529.00" y="215.42" width="22.20" height="18.25" fill="#938ade"/>
<rect x="550.90" y="215.42" width="22.20" height="18.25" fill="#e0d3ea"/>
<rect x="572.80" y="215.42" width="22.20" height="18.25" fill="#fae7e7"/>
<rect x="594.70" y="215.42" width="22.20" height="18.25" fill="#f9e2e2"/>
<rect x="529.00" y="233.37" width="22.20" height="18.25" fill="#aaa0e1"/>
<rect x="550.90" y="233.37" width="22.20" height="18.25" fill="#fdeded"/>
<rect x="572.80" y="233.37" width="22.20" height="18.25" fill="#f6dbdb"/>
<rect x="594.70" y="233.37" width="22.20" height="18.25" fill="#f4d6d6"/>
<rect x="507.10" y="251.32" width="22.20" height="18.25" fill="#fcecec"/>
<rect x="529.00" y="251.32" width="22.20" height="18.25" fill="#e4adad"/>
<rect x="550.90" y="251.32" width="22.20" height="18.25" fill="#edc4c4"/>
<rect x="572.80" y="251.32" width="22.20" height="18.25" fill="#ebc0c0"/>
<rect x="594.70" y="251.32" width="22.20" height="18.25" fill="#dd9b9b"/>
<rect x="529.00" y="269.27" width="22.20" height="18.25" fill="#db9696"/>
<rect x="550.90" y="269.27" width="22.20" height="18.25" fill="#e3aaaa"/>
<rect x="572.80" y="269.27" width="22.20" height="18.25" fill="#e9b9b9"/>
<rect x="594.70" y="269.27" width="22.20" height="18.25" fill="#e8b8b8"/>
<rect x="529.00" y="287.23" width="22.20" height="18.25" fill="#bc4343"/>
<rect x="550.90" y="287.23" width="22.20" height="18.25" fill="#c76161"/>
<rect x="572.80" y="287.23" width="22.20" height="18.25" fill="#cb6b6b"/>
<rect x="594.70" y="287.23" width="22.20" height="18.25" fill="#b02626"/>
<rect x="507.10" y="305.18" width="22.20" height="18.25" fill="#312ecf"/>
<rect x="529.00" y="305.18" width="22.20" height="18.25" fill="#fbe8e8"/>
<rect x="550.90" y="305.18" width="22.20" height="18.25" fill="#fbe9e9"/>
<rect x="572.80" y="305.18" width="22.20" height="18.25" fill="#fcecec"/>
<rect x="594.70" y="305.18" width="22.20" height="18.25" fill="#e9dbeb"/>
<rect x="529.00" y="323.13" width="22.20" height="18.25" fill="#fceded"/>
<rect x="550.90" y="323.13" width="22.20" height="18.25" fill="#f9e4e4"/>
<rect x="572.80" y="323.13" width="22.20" height="18.25" fill="#fbe8e8"/>
<rect x="594.70" y="323.13" width="22.20" height="18.25" fill="#f9e5e5"/>
<rect x="529.00" y="341.08" width="22.20" height="18.25" fill="#fcecec"/>
<rect x="550.90" y="341.08" width="22.20" height="18.25" fill="#f6dbdb"/>
<rect x="572.80" y="341.08" width="22.20" height="18.25" fill="#f9e4e4"/>
<rect x="594.70" y="341.08" width="22.20" height="18.25" fill="#f5dada"/>
<rect x="507.10" y="359.03" width="22.20" height="18.25" fill="#2523ce"/>
<rect x="529.00" y="359.03" width="22.20" height="18.25" fill="#fcecec"/>
<rect x="550.90" y="359.03" width="22.20" height="18.25" fill="#ddd0e9"/>
<rect x="572.80" y="359.03" width="22.20" height="18.25" fill="#fcecec"/>
<rect x="594.70" y="359.03" width="22.20" height="18.25" fill="#faebee"/>
<rect x="529.00" y="376.99" width="22.20" height="18.25" fill="#0c0bca"/>
<rect x="550.90" y="376.99" width="22.20" height="18.25" fill="#504cd4"/>
<rect x="572.80" y="376.99" width="22.20" height="18.25" fill="#6861d8"/>
<rect x="594.70" y="376.99" width="22.20" height="18.25" fill="#7c74db"/>
<rect x="529.00" y="394.94" width="22.20" height="18.25" fill="#0000c8"/>
<rect x="550.90" y="394.94" width="22.20" height="18.25" fill="#6861d8"/>
<rect x="572.80" y="394.94" width="22.20" height="18.25" fill="#5954d5"/>
<rect x="594.70" y="394.94" width="22.20" height="18.25" fill="#c6bbe6"/>
<rect x="507.10" y="412.89" width="22.20" height="18.25" fill="#1413cb"/>
<rect x="529.00" y="412.89" width="22.20" height="18.25" fill="#f8e2e2"/>
<rect x="550.90" y="412.89" width="22.20" height="18.25" fill="#fbe9e9"/>
<rect x="572.80" y="412.89" width="22.20" height="18.25" fill="#fae5e5"/>
<rect x="594.70" y="412.89" width="22.20" height="18.25" fill="#f8e0e0"/>
<rect x="529.00" y="430.84" width="22.20" height="18.25" fill="#fcebeb"/>
<rect x="550.90" y="430.84" width="22.20" height="18.25" fill="#e6d8eb"/>
<rect x="572.80" y="430.84" width="22.20" height="18.25" fill="#fdeeee"/>
<rect x="594.70" y="430.84" width="22.20" height="18.25" fill="#fdeeee"/>
<rect x="529.00" y="448.79" width="22.20" height="18.25" fill="#f9e3e3"/>
<rect x="550.90" y="448.79" width="22.20" height="18.25" fill="#fae7e7"/>
<rect x="572.80" y="448.79" width="22.20" height="18.25" fill="#fcecec"/>
<rect x="594.70" y="448.79" width="22.20" height="18.25" fill="#f9e4e4"/>
<rect x="507.10" y="466.74" width="22.20" height="18.25" fill="#423ed2"/>
<rect x="529.00" y="466.74" width="22.20" height="18.25" fill="#e6d8eb"/>
<rect x="550.90" y="466.74" width="22.20" height="18.25" fill="#e3d6ea"/>
<rect x="572.80" y="466.74" width="22.20" height="18.25" fill="#fcebeb"/>
<rect x="594.70" y="466.74" width="22.20" height="18.25" fill="#e3d6ea"/>
<rect x="529.00" y="484.70" width="22.20" height="18.25" fill="#b5aae3"/>
<rect x="550.90" y="484.70" width="22.20" height="18.25" fill="#fbe8e8"/>
<rect x="572.80" y="484.70" width="22.20" height="18.25" fill="#fbe9e9"/>
<rect x="594.70" y="484.70" width="22.20" height="18.25" fill="#fae6e6"/>
<rect x="529.00" y="502.65" width="22.20" height="18.25" fill="#b2a8e3"/>
<rect x="550.90" y="502.65" width="22.20" height="18.25" fill="#f8e2e2"/>
<rect x="572.80" y="502.65" width="22.20" height="18.25" fill="#fcecec"/>
<rect x="594.70" y="502.65" width="22.20" height="18.25" fill="#f8e0e0"/>
<text x="0" y="0" class="cv" fill="#000" stroke="#000" stroke-width="0.12" style="font-size:7.30px;letter-spacing:0.75px" transform="translate(518.30 47.49) scale(0.660 1)">1.37</text>
<text x="0" y="0" class="cv" fill="#000" stroke="#000" stroke-width="0.12" style="font-size:7.30px;letter-spacing:0.75px" transform="translate(540.20 47.49) scale(0.660 1)">2.60</text>
<text x="0" y="0" class="cv" fill="#000" stroke="#000" stroke-width="0.12" style="font-size:7.30px;letter-spacing:0.75px" transform="translate(562.10 47.49) scale(0.660 1)">1.14</text>
<text x="0" y="0" class="cv" fill="#000" stroke="#000" stroke-width="0.12" style="font-size:7.30px;letter-spacing:0.75px" transform="translate(584.00 47.49) scale(0.660 1)">0.77</text>
<text x="0" y="0" class="cv" fill="#000" stroke="#000" stroke-width="0.12" style="font-size:7.30px;letter-spacing:0.75px" transform="translate(605.90 47.49) scale(0.660 1)">1.15</text>
<text x="0" y="0" class="cv" fill="#000" stroke="#000" stroke-width="0.12" style="font-size:7.30px;letter-spacing:0.75px" transform="translate(540.20 65.44) scale(0.660 1)">6.10</text>
<text x="0" y="0" class="cv" fill="#000" stroke="#000" stroke-width="0.12" style="font-size:7.30px;letter-spacing:0.75px" transform="translate(562.10 65.44) scale(0.660 1)">3.27</text>
<text x="0" y="0" class="cv" fill="#000" stroke="#000" stroke-width="0.12" style="font-size:7.30px;letter-spacing:0.75px" transform="translate(584.00 65.44) scale(0.660 1)">2.37</text>
<text x="0" y="0" class="cv" fill="#000" stroke="#000" stroke-width="0.12" style="font-size:7.30px;letter-spacing:0.75px" transform="translate(605.90 65.44) scale(0.660 1)">2.72</text>
<text x="0" y="0" class="cv" fill="#000" stroke="#000" stroke-width="0.12" style="font-size:7.30px;letter-spacing:0.75px" transform="translate(540.20 83.39) scale(0.660 1)">7.84</text>
<text x="0" y="0" class="cv" fill="#000" stroke="#000" stroke-width="0.12" style="font-size:7.30px;letter-spacing:0.75px" transform="translate(562.10 83.39) scale(0.660 1)">5.15</text>
<text x="0" y="0" class="cv" fill="#000" stroke="#000" stroke-width="0.12" style="font-size:7.30px;letter-spacing:0.75px" transform="translate(584.00 83.39) scale(0.660 1)">4.47</text>
<text x="0" y="0" class="cv" fill="#000" stroke="#000" stroke-width="0.12" style="font-size:7.30px;letter-spacing:0.75px" transform="translate(605.90 83.39) scale(0.660 1)">6.48</text>
<text x="0" y="0" class="cv" fill="#fff" stroke="#fff" stroke-width="0.12" style="font-size:7.30px;letter-spacing:0.75px" transform="translate(518.30 101.34) scale(0.660 1)">0.49</text>
<text x="0" y="0" class="cv" fill="#000" stroke="#000" stroke-width="0.12" style="font-size:7.30px;letter-spacing:0.75px" transform="translate(540.20 101.34) scale(0.660 1)">0.76</text>
<text x="0" y="0" class="cv" fill="#000" stroke="#000" stroke-width="0.12" style="font-size:7.30px;letter-spacing:0.75px" transform="translate(562.10 101.34) scale(0.660 1)">0.52</text>
<text x="0" y="0" class="cv" fill="#000" stroke="#000" stroke-width="0.12" style="font-size:7.30px;letter-spacing:0.75px" transform="translate(584.00 101.34) scale(0.660 1)">0.94</text>
<text x="0" y="0" class="cv" fill="#000" stroke="#000" stroke-width="0.12" style="font-size:7.30px;letter-spacing:0.75px" transform="translate(605.90 101.34) scale(0.660 1)">0.87</text>
<text x="0" y="0" class="cv" fill="#fff" stroke="#fff" stroke-width="0.12" style="font-size:7.30px;letter-spacing:0.75px" transform="translate(540.20 119.30) scale(0.660 1)">0.46</text>
<text x="0" y="0" class="cv" fill="#000" stroke="#000" stroke-width="0.12" style="font-size:7.30px;letter-spacing:0.75px" transform="translate(562.10 119.30) scale(0.660 1)">1.49</text>
<text x="0" y="0" class="cv" fill="#000" stroke="#000" stroke-width="0.12" style="font-size:7.30px;letter-spacing:0.75px" transform="translate(584.00 119.30) scale(0.660 1)">1.25</text>
<text x="0" y="0" class="cv" fill="#000" stroke="#000" stroke-width="0.12" style="font-size:7.30px;letter-spacing:0.75px" transform="translate(605.90 119.30) scale(0.660 1)">1.68</text>
<text x="0" y="0" class="cv" fill="#fff" stroke="#fff" stroke-width="0.12" style="font-size:7.30px;letter-spacing:0.75px" transform="translate(540.20 137.25) scale(0.660 1)">0.38</text>
<text x="0" y="0" class="cv" fill="#000" stroke="#000" stroke-width="0.12" style="font-size:7.30px;letter-spacing:0.75px" transform="translate(562.10 137.25) scale(0.660 1)">1.71</text>
<text x="0" y="0" class="cv" fill="#000" stroke="#000" stroke-width="0.12" style="font-size:7.30px;letter-spacing:0.75px" transform="translate(584.00 137.25) scale(0.660 1)">0.94</text>
<text x="0" y="0" class="cv" fill="#000" stroke="#000" stroke-width="0.12" style="font-size:7.30px;letter-spacing:0.75px" transform="translate(605.90 137.25) scale(0.660 1)">1.30</text>
<text x="0" y="0" class="cv" fill="#000" stroke="#000" stroke-width="0.12" style="font-size:7.30px;letter-spacing:0.75px" transform="translate(518.30 155.20) scale(0.660 1)">1.59</text>
<text x="0" y="0" class="cv" fill="#000" stroke="#000" stroke-width="0.12" style="font-size:7.30px;letter-spacing:0.75px" transform="translate(540.20 155.20) scale(0.660 1)">5.89</text>
<text x="0" y="0" class="cv" fill="#000" stroke="#000" stroke-width="0.12" style="font-size:7.30px;letter-spacing:0.75px" transform="translate(562.10 155.20) scale(0.660 1)">7.92</text>
<text x="0" y="0" class="cv" fill="#000" stroke="#000" stroke-width="0.12" style="font-size:7.30px;letter-spacing:0.75px" transform="translate(584.00 155.20) scale(0.660 1)">6.58</text>
<text x="0" y="0" class="cv" fill="#000" stroke="#000" stroke-width="0.12" style="font-size:7.30px;letter-spacing:0.75px" transform="translate(605.90 155.20) scale(0.660 1)">9.25</text>
<text x="0" y="0" class="cv" fill="#000" stroke="#000" stroke-width="0.12" style="font-size:7.30px;letter-spacing:0.75px" transform="translate(540.20 173.15) scale(0.660 1)">3.34</text>
<text x="0" y="0" class="cv" fill="#000" stroke="#000" stroke-width="0.12" style="font-size:7.30px;letter-spacing:0.75px" transform="translate(562.10 173.15) scale(0.660 1)">4.44</text>
<text x="0" y="0" class="cv" fill="#000" stroke="#000" stroke-width="0.12" style="font-size:7.30px;letter-spacing:0.75px" transform="translate(584.00 173.15) scale(0.660 1)">3.65</text>
<text x="0" y="0" class="cv" fill="#000" stroke="#000" stroke-width="0.12" style="font-size:7.30px;letter-spacing:0.75px" transform="translate(605.90 173.15) scale(0.660 1)">4.68</text>
<text x="0" y="0" class="cv" fill="#000" stroke="#000" stroke-width="0.12" style="font-size:7.30px;letter-spacing:0.75px" transform="translate(540.20 191.10) scale(0.660 1)">9.44</text>
<text x="0" y="0" class="cv" fill="#000" stroke="#000" stroke-width="0.12" style="font-size:7.30px;letter-spacing:0.75px" transform="translate(562.10 191.10) scale(0.660 1)">9.03</text>
<text x="0" y="0" class="cv" fill="#000" stroke="#000" stroke-width="0.12" style="font-size:7.30px;letter-spacing:0.75px" transform="translate(584.00 191.10) scale(0.660 1)">10.91</text>
<text x="0" y="0" class="cv" fill="#fff" stroke="#fff" stroke-width="0.12" style="font-size:7.30px;letter-spacing:0.75px" transform="translate(605.90 191.10) scale(0.660 1)">17.97</text>
<text x="0" y="0" class="cv" fill="#fff" stroke="#fff" stroke-width="0.12" style="font-size:7.30px;letter-spacing:0.75px" transform="translate(518.30 209.06) scale(0.660 1)">0.19</text>
<text x="0" y="0" class="cv" fill="#000" stroke="#000" stroke-width="0.12" style="font-size:7.30px;letter-spacing:0.75px" transform="translate(540.20 209.06) scale(0.660 1)">3.48</text>
<text x="0" y="0" class="cv" fill="#000" stroke="#000" stroke-width="0.12" style="font-size:7.30px;letter-spacing:0.75px" transform="translate(562.10 209.06) scale(0.660 1)">1.46</text>
<text x="0" y="0" class="cv" fill="#000" stroke="#000" stroke-width="0.12" style="font-size:7.30px;letter-spacing:0.75px" transform="translate(584.00 209.06) scale(0.660 1)">2.08</text>
<text x="0" y="0" class="cv" fill="#000" stroke="#000" stroke-width="0.12" style="font-size:7.30px;letter-spacing:0.75px" transform="translate(605.90 209.06) scale(0.660 1)">1.08</text>
<text x="0" y="0" class="cv" fill="#000" stroke="#000" stroke-width="0.12" style="font-size:7.30px;letter-spacing:0.75px" transform="translate(540.20 227.01) scale(0.660 1)">0.63</text>
<text x="0" y="0" class="cv" fill="#000" stroke="#000" stroke-width="0.12" style="font-size:7.30px;letter-spacing:0.75px" transform="translate(562.10 227.01) scale(0.660 1)">0.90</text>
<text x="0" y="0" class="cv" fill="#000" stroke="#000" stroke-width="0.12" style="font-size:7.30px;letter-spacing:0.75px" transform="translate(584.00 227.01) scale(0.660 1)">1.53</text>
<text x="0" y="0" class="cv" fill="#000" stroke="#000" stroke-width="0.12" style="font-size:7.30px;letter-spacing:0.75px" transform="translate(605.90 227.01) scale(0.660 1)">1.83</text>
<text x="0" y="0" class="cv" fill="#000" stroke="#000" stroke-width="0.12" style="font-size:7.30px;letter-spacing:0.75px" transform="translate(540.20 244.96) scale(0.660 1)">0.71</text>
<text x="0" y="0" class="cv" fill="#000" stroke="#000" stroke-width="0.12" style="font-size:7.30px;letter-spacing:0.75px" transform="translate(562.10 244.96) scale(0.660 1)">1.08</text>
<text x="0" y="0" class="cv" fill="#000" stroke="#000" stroke-width="0.12" style="font-size:7.30px;letter-spacing:0.75px" transform="translate(584.00 244.96) scale(0.660 1)">2.39</text>
<text x="0" y="0" class="cv" fill="#000" stroke="#000" stroke-width="0.12" style="font-size:7.30px;letter-spacing:0.75px" transform="translate(605.90 244.96) scale(0.660 1)">2.72</text>
<text x="0" y="0" class="cv" fill="#000" stroke="#000" stroke-width="0.12" style="font-size:7.30px;letter-spacing:0.75px" transform="translate(518.30 262.91) scale(0.660 1)">1.14</text>
<text x="0" y="0" class="cv" fill="#000" stroke="#000" stroke-width="0.12" style="font-size:7.30px;letter-spacing:0.75px" transform="translate(540.20 262.91) scale(0.660 1)">5.62</text>
<text x="0" y="0" class="cv" fill="#000" stroke="#000" stroke-width="0.12" style="font-size:7.30px;letter-spacing:0.75px" transform="translate(562.10 262.91) scale(0.660 1)">4.01</text>
<text x="0" y="0" class="cv" fill="#000" stroke="#000" stroke-width="0.12" style="font-size:7.30px;letter-spacing:0.75px" transform="translate(584.00 262.91) scale(0.660 1)">4.28</text>
<text x="0" y="0" class="cv" fill="#000" stroke="#000" stroke-width="0.12" style="font-size:7.30px;letter-spacing:0.75px" transform="translate(605.90 262.91) scale(0.660 1)">6.89</text>
<text x="0" y="0" class="cv" fill="#000" stroke="#000" stroke-width="0.12" style="font-size:7.30px;letter-spacing:0.75px" transform="translate(540.20 280.86) scale(0.660 1)">7.30</text>
<text x="0" y="0" class="cv" fill="#000" stroke="#000" stroke-width="0.12" style="font-size:7.30px;letter-spacing:0.75px" transform="translate(562.10 280.86) scale(0.660 1)">5.86</text>
<text x="0" y="0" class="cv" fill="#000" stroke="#000" stroke-width="0.12" style="font-size:7.30px;letter-spacing:0.75px" transform="translate(584.00 280.86) scale(0.660 1)">4.80</text>
<text x="0" y="0" class="cv" fill="#000" stroke="#000" stroke-width="0.12" style="font-size:7.30px;letter-spacing:0.75px" transform="translate(605.90 280.86) scale(0.660 1)">4.84</text>
<text x="0" y="0" class="cv" fill="#fff" stroke="#fff" stroke-width="0.12" style="font-size:7.30px;letter-spacing:0.75px" transform="translate(540.20 298.82) scale(0.660 1)">13.17</text>
<text x="0" y="0" class="cv" fill="#000" stroke="#000" stroke-width="0.12" style="font-size:7.30px;letter-spacing:0.75px" transform="translate(562.10 298.82) scale(0.660 1)">11.05</text>
<text x="0" y="0" class="cv" fill="#000" stroke="#000" stroke-width="0.12" style="font-size:7.30px;letter-spacing:0.75px" transform="translate(584.00 298.82) scale(0.660 1)">10.37</text>
<text x="0" y="0" class="cv" fill="#fff" stroke="#fff" stroke-width="0.12" style="font-size:7.30px;letter-spacing:0.75px" transform="translate(605.90 298.82) scale(0.660 1)">15.28</text>
<text x="0" y="0" class="cv" fill="#fff" stroke="#fff" stroke-width="0.12" style="font-size:7.30px;letter-spacing:0.75px" transform="translate(518.30 316.77) scale(0.660 1)">0.29</text>
<text x="0" y="0" class="cv" fill="#000" stroke="#000" stroke-width="0.12" style="font-size:7.30px;letter-spacing:0.75px" transform="translate(540.20 316.77) scale(0.660 1)">1.46</text>
<text x="0" y="0" class="cv" fill="#000" stroke="#000" stroke-width="0.12" style="font-size:7.30px;letter-spacing:0.75px" transform="translate(562.10 316.77) scale(0.660 1)">1.35</text>
<text x="0" y="0" class="cv" fill="#000" stroke="#000" stroke-width="0.12" style="font-size:7.30px;letter-spacing:0.75px" transform="translate(584.00 316.77) scale(0.660 1)">1.13</text>
<text x="0" y="0" class="cv" fill="#000" stroke="#000" stroke-width="0.12" style="font-size:7.30px;letter-spacing:0.75px" transform="translate(605.90 316.77) scale(0.660 1)">0.93</text>
<text x="0" y="0" class="cv" fill="#000" stroke="#000" stroke-width="0.12" style="font-size:7.30px;letter-spacing:0.75px" transform="translate(540.20 334.72) scale(0.660 1)">1.10</text>
<text x="0" y="0" class="cv" fill="#000" stroke="#000" stroke-width="0.12" style="font-size:7.30px;letter-spacing:0.75px" transform="translate(562.10 334.72) scale(0.660 1)">1.68</text>
<text x="0" y="0" class="cv" fill="#000" stroke="#000" stroke-width="0.12" style="font-size:7.30px;letter-spacing:0.75px" transform="translate(584.00 334.72) scale(0.660 1)">1.44</text>
<text x="0" y="0" class="cv" fill="#000" stroke="#000" stroke-width="0.12" style="font-size:7.30px;letter-spacing:0.75px" transform="translate(605.90 334.72) scale(0.660 1)">1.67</text>
<text x="0" y="0" class="cv" fill="#000" stroke="#000" stroke-width="0.12" style="font-size:7.30px;letter-spacing:0.75px" transform="translate(540.20 352.67) scale(0.660 1)">1.17</text>
<text x="0" y="0" class="cv" fill="#000" stroke="#000" stroke-width="0.12" style="font-size:7.30px;letter-spacing:0.75px" transform="translate(562.10 352.67) scale(0.660 1)">2.39</text>
<text x="0" y="0" class="cv" fill="#000" stroke="#000" stroke-width="0.12" style="font-size:7.30px;letter-spacing:0.75px" transform="translate(584.00 352.67) scale(0.660 1)">1.71</text>
<text x="0" y="0" class="cv" fill="#000" stroke="#000" stroke-width="0.12" style="font-size:7.30px;letter-spacing:0.75px" transform="translate(605.90 352.67) scale(0.660 1)">2.42</text>
<text x="0" y="0" class="cv" fill="#fff" stroke="#fff" stroke-width="0.12" style="font-size:7.30px;letter-spacing:0.75px" transform="translate(518.30 370.62) scale(0.660 1)">0.25</text>
<text x="0" y="0" class="cv" fill="#000" stroke="#000" stroke-width="0.12" style="font-size:7.30px;letter-spacing:0.75px" transform="translate(540.20 370.62) scale(0.660 1)">1.16</text>
<text x="0" y="0" class="cv" fill="#000" stroke="#000" stroke-width="0.12" style="font-size:7.30px;letter-spacing:0.75px" transform="translate(562.10 370.62) scale(0.660 1)">0.89</text>
<text x="0" y="0" class="cv" fill="#000" stroke="#000" stroke-width="0.12" style="font-size:7.30px;letter-spacing:0.75px" transform="translate(584.00 370.62) scale(0.660 1)">1.12</text>
<text x="0" y="0" class="cv" fill="#000" stroke="#000" stroke-width="0.12" style="font-size:7.30px;letter-spacing:0.75px" transform="translate(605.90 370.62) scale(0.660 1)">0.99</text>
<text x="0" y="0" class="cv" fill="#fff" stroke="#fff" stroke-width="0.12" style="font-size:7.30px;letter-spacing:0.75px" transform="translate(540.20 388.57) scale(0.660 1)">0.16</text>
<text x="0" y="0" class="cv" fill="#fff" stroke="#fff" stroke-width="0.12" style="font-size:7.30px;letter-spacing:0.75px" transform="translate(562.10 388.57) scale(0.660 1)">0.40</text>
<text x="0" y="0" class="cv" fill="#fff" stroke="#fff" stroke-width="0.12" style="font-size:7.30px;letter-spacing:0.75px" transform="translate(584.00 388.57) scale(0.660 1)">0.48</text>
<text x="0" y="0" class="cv" fill="#000" stroke="#000" stroke-width="0.12" style="font-size:7.30px;letter-spacing:0.75px" transform="translate(605.90 388.57) scale(0.660 1)">0.55</text>
<text x="0" y="0" class="cv" fill="#fff" stroke="#fff" stroke-width="0.12" style="font-size:7.30px;letter-spacing:0.75px" transform="translate(540.20 406.53) scale(0.660 1)">0.12</text>
<text x="0" y="0" class="cv" fill="#fff" stroke="#fff" stroke-width="0.12" style="font-size:7.30px;letter-spacing:0.75px" transform="translate(562.10 406.53) scale(0.660 1)">0.48</text>
<text x="0" y="0" class="cv" fill="#fff" stroke="#fff" stroke-width="0.12" style="font-size:7.30px;letter-spacing:0.75px" transform="translate(584.00 406.53) scale(0.660 1)">0.43</text>
<text x="0" y="0" class="cv" fill="#000" stroke="#000" stroke-width="0.12" style="font-size:7.30px;letter-spacing:0.75px" transform="translate(605.90 406.53) scale(0.660 1)">0.81</text>
<text x="0" y="0" class="cv" fill="#fff" stroke="#fff" stroke-width="0.12" style="font-size:7.30px;letter-spacing:0.75px" transform="translate(518.30 424.48) scale(0.660 1)">0.19</text>
<text x="0" y="0" class="cv" fill="#000" stroke="#000" stroke-width="0.12" style="font-size:7.30px;letter-spacing:0.75px" transform="translate(540.20 424.48) scale(0.660 1)">1.85</text>
<text x="0" y="0" class="cv" fill="#000" stroke="#000" stroke-width="0.12" style="font-size:7.30px;letter-spacing:0.75px" transform="translate(562.10 424.48) scale(0.660 1)">1.35</text>
<text x="0" y="0" class="cv" fill="#000" stroke="#000" stroke-width="0.12" style="font-size:7.30px;letter-spacing:0.75px" transform="translate(584.00 424.48) scale(0.660 1)">1.62</text>
<text x="0" y="0" class="cv" fill="#000" stroke="#000" stroke-width="0.12" style="font-size:7.30px;letter-spacing:0.75px" transform="translate(605.90 424.48) scale(0.660 1)">2.00</text>
<text x="0" y="0" class="cv" fill="#000" stroke="#000" stroke-width="0.12" style="font-size:7.30px;letter-spacing:0.75px" transform="translate(540.20 442.43) scale(0.660 1)">1.19</text>
<text x="0" y="0" class="cv" fill="#000" stroke="#000" stroke-width="0.12" style="font-size:7.30px;letter-spacing:0.75px" transform="translate(562.10 442.43) scale(0.660 1)">0.92</text>
<text x="0" y="0" class="cv" fill="#000" stroke="#000" stroke-width="0.12" style="font-size:7.30px;letter-spacing:0.75px" transform="translate(584.00 442.43) scale(0.660 1)">1.01</text>
<text x="0" y="0" class="cv" fill="#000" stroke="#000" stroke-width="0.12" style="font-size:7.30px;letter-spacing:0.75px" transform="translate(605.90 442.43) scale(0.660 1)">1.00</text>
<text x="0" y="0" class="cv" fill="#000" stroke="#000" stroke-width="0.12" style="font-size:7.30px;letter-spacing:0.75px" transform="translate(540.20 460.38) scale(0.660 1)">1.79</text>
<text x="0" y="0" class="cv" fill="#000" stroke="#000" stroke-width="0.12" style="font-size:7.30px;letter-spacing:0.75px" transform="translate(562.10 460.38) scale(0.660 1)">1.52</text>
<text x="0" y="0" class="cv" fill="#000" stroke="#000" stroke-width="0.12" style="font-size:7.30px;letter-spacing:0.75px" transform="translate(584.00 460.38) scale(0.660 1)">1.11</text>
<text x="0" y="0" class="cv" fill="#000" stroke="#000" stroke-width="0.12" style="font-size:7.30px;letter-spacing:0.75px" transform="translate(605.90 460.38) scale(0.660 1)">1.73</text>
<text x="0" y="0" class="cv" fill="#fff" stroke="#fff" stroke-width="0.12" style="font-size:7.30px;letter-spacing:0.75px" transform="translate(518.30 478.33) scale(0.660 1)">0.35</text>
<text x="0" y="0" class="cv" fill="#000" stroke="#000" stroke-width="0.12" style="font-size:7.30px;letter-spacing:0.75px" transform="translate(540.20 478.33) scale(0.660 1)">0.92</text>
<text x="0" y="0" class="cv" fill="#000" stroke="#000" stroke-width="0.12" style="font-size:7.30px;letter-spacing:0.75px" transform="translate(562.10 478.33) scale(0.660 1)">0.91</text>
<text x="0" y="0" class="cv" fill="#000" stroke="#000" stroke-width="0.12" style="font-size:7.30px;letter-spacing:0.75px" transform="translate(584.00 478.33) scale(0.660 1)">1.23</text>
<text x="0" y="0" class="cv" fill="#000" stroke="#000" stroke-width="0.12" style="font-size:7.30px;letter-spacing:0.75px" transform="translate(605.90 478.33) scale(0.660 1)">0.91</text>
<text x="0" y="0" class="cv" fill="#000" stroke="#000" stroke-width="0.12" style="font-size:7.30px;letter-spacing:0.75px" transform="translate(540.20 496.29) scale(0.660 1)">0.75</text>
<text x="0" y="0" class="cv" fill="#000" stroke="#000" stroke-width="0.12" style="font-size:7.30px;letter-spacing:0.75px" transform="translate(562.10 496.29) scale(0.660 1)">1.44</text>
<text x="0" y="0" class="cv" fill="#000" stroke="#000" stroke-width="0.12" style="font-size:7.30px;letter-spacing:0.75px" transform="translate(584.00 496.29) scale(0.660 1)">1.35</text>
<text x="0" y="0" class="cv" fill="#000" stroke="#000" stroke-width="0.12" style="font-size:7.30px;letter-spacing:0.75px" transform="translate(605.90 496.29) scale(0.660 1)">1.56</text>
<text x="0" y="0" class="cv" fill="#000" stroke="#000" stroke-width="0.12" style="font-size:7.30px;letter-spacing:0.75px" transform="translate(540.20 514.24) scale(0.660 1)">0.74</text>
<text x="0" y="0" class="cv" fill="#000" stroke="#000" stroke-width="0.12" style="font-size:7.30px;letter-spacing:0.75px" transform="translate(562.10 514.24) scale(0.660 1)">1.89</text>
<text x="0" y="0" class="cv" fill="#000" stroke="#000" stroke-width="0.12" style="font-size:7.30px;letter-spacing:0.75px" transform="translate(584.00 514.24) scale(0.660 1)">1.13</text>
<text x="0" y="0" class="cv" fill="#000" stroke="#000" stroke-width="0.12" style="font-size:7.30px;letter-spacing:0.75px" transform="translate(605.90 514.24) scale(0.660 1)">2.02</text>
<rect x="507.10" y="35.90" width="109.50" height="484.70" fill="none" stroke="#000" stroke-width="2.6"/>
<line x1="499.80" y1="44.88" x2="507.10" y2="44.88" stroke="#000" stroke-width="2.5"/>
<text x="0" y="0" class="rl" style="font-size:13.20px" transform="translate(497.00 49.60) scale(1.000 1)">SPHH</text>
<line x1="499.80" y1="62.83" x2="507.10" y2="62.83" stroke="#000" stroke-width="2.5"/>
<text x="0" y="0" class="rl" style="font-size:13.20px" transform="translate(497.00 67.55) scale(1.000 1)">SPHH-5C</text>
<line x1="499.80" y1="80.78" x2="507.10" y2="80.78" stroke="#000" stroke-width="2.5"/>
<text x="0" y="0" class="rl" style="font-size:13.20px" transform="translate(497.00 85.51) scale(1.000 1)">PHH-5C</text>
<path d="M443.80 41.00 H432.50 V82.40 H443.80" fill="none" stroke="#000" stroke-width="2.15"/>
<text x="0" y="0" class="gl" style="font-size:15.40px;text-anchor:start" transform="translate(387.50 67.21) scale(0.948 1)">BCRP</text>
<line x1="499.80" y1="98.73" x2="507.10" y2="98.73" stroke="#000" stroke-width="2.5"/>
<text x="0" y="0" class="rl" style="font-size:13.20px" transform="translate(497.00 103.46) scale(1.000 1)">SPHH</text>
<line x1="499.80" y1="116.68" x2="507.10" y2="116.68" stroke="#000" stroke-width="2.5"/>
<text x="0" y="0" class="rl" style="font-size:13.20px" transform="translate(497.00 121.41) scale(1.000 1)">SPHH-5C</text>
<line x1="499.80" y1="134.64" x2="507.10" y2="134.64" stroke="#000" stroke-width="2.5"/>
<text x="0" y="0" class="rl" style="font-size:13.20px" transform="translate(497.00 139.36) scale(1.000 1)">PHH-5C</text>
<path d="M443.80 93.20 H432.50 V135.60 H443.80" fill="none" stroke="#000" stroke-width="2.15"/>
<text x="0" y="0" class="gl" style="font-size:15.40px;text-anchor:start" transform="translate(387.50 119.91) scale(0.948 1)">BSEP</text>
<line x1="499.80" y1="152.59" x2="507.10" y2="152.59" stroke="#000" stroke-width="2.5"/>
<text x="0" y="0" class="rl" style="font-size:13.20px" transform="translate(497.00 157.31) scale(1.000 1)">SPHH</text>
<line x1="499.80" y1="170.54" x2="507.10" y2="170.54" stroke="#000" stroke-width="2.5"/>
<text x="0" y="0" class="rl" style="font-size:13.20px" transform="translate(497.00 175.26) scale(1.000 1)">SPHH-5C</text>
<line x1="499.80" y1="188.49" x2="507.10" y2="188.49" stroke="#000" stroke-width="2.5"/>
<text x="0" y="0" class="rl" style="font-size:13.20px" transform="translate(497.00 193.22) scale(1.000 1)">PHH-5C</text>
<path d="M443.80 147.50 H432.50 V189.00 H443.80" fill="none" stroke="#000" stroke-width="2.15"/>
<text x="0" y="0" class="gl" style="font-size:15.40px;text-anchor:start" transform="translate(387.50 173.76) scale(0.948 1)">MDR1</text>
<line x1="499.80" y1="206.44" x2="507.10" y2="206.44" stroke="#000" stroke-width="2.5"/>
<text x="0" y="0" class="rl" style="font-size:13.20px" transform="translate(497.00 211.17) scale(1.000 1)">SPHH</text>
<line x1="499.80" y1="224.39" x2="507.10" y2="224.39" stroke="#000" stroke-width="2.5"/>
<text x="0" y="0" class="rl" style="font-size:13.20px" transform="translate(497.00 229.12) scale(1.000 1)">SPHH-5C</text>
<line x1="499.80" y1="242.35" x2="507.10" y2="242.35" stroke="#000" stroke-width="2.5"/>
<text x="0" y="0" class="rl" style="font-size:13.20px" transform="translate(497.00 247.07) scale(1.000 1)">PHH-5C</text>
<path d="M443.80 201.50 H432.50 V242.90 H443.80" fill="none" stroke="#000" stroke-width="2.15"/>
<text x="0" y="0" class="gl" style="font-size:15.40px;text-anchor:start" transform="translate(387.50 227.71) scale(0.948 1)">MDR3</text>
<line x1="499.80" y1="260.30" x2="507.10" y2="260.30" stroke="#000" stroke-width="2.5"/>
<text x="0" y="0" class="rl" style="font-size:13.20px" transform="translate(497.00 265.02) scale(1.000 1)">SPHH</text>
<line x1="499.80" y1="278.25" x2="507.10" y2="278.25" stroke="#000" stroke-width="2.5"/>
<text x="0" y="0" class="rl" style="font-size:13.20px" transform="translate(497.00 282.98) scale(1.000 1)">SPHH-5C</text>
<line x1="499.80" y1="296.20" x2="507.10" y2="296.20" stroke="#000" stroke-width="2.5"/>
<text x="0" y="0" class="rl" style="font-size:13.20px" transform="translate(497.00 300.93) scale(1.000 1)">PHH-5C</text>
<path d="M443.80 254.80 H432.50 V296.80 H443.80" fill="none" stroke="#000" stroke-width="2.15"/>
<text x="0" y="0" class="gl" style="font-size:15.40px;text-anchor:start" transform="translate(387.50 281.31) scale(0.948 1)">MRP2</text>
<line x1="499.80" y1="314.15" x2="507.10" y2="314.15" stroke="#000" stroke-width="2.5"/>
<text x="0" y="0" class="rl" style="font-size:13.20px" transform="translate(497.00 318.88) scale(1.000 1)">SPHH</text>
<line x1="499.80" y1="332.11" x2="507.10" y2="332.11" stroke="#000" stroke-width="2.5"/>
<text x="0" y="0" class="rl" style="font-size:13.20px" transform="translate(497.00 336.83) scale(1.000 1)">SPHH-5C</text>
<line x1="499.80" y1="350.06" x2="507.10" y2="350.06" stroke="#000" stroke-width="2.5"/>
<text x="0" y="0" class="rl" style="font-size:13.20px" transform="translate(497.00 354.78) scale(1.000 1)">PHH-5C</text>
<path d="M443.80 311.00 H432.50 V352.40 H443.80" fill="none" stroke="#000" stroke-width="2.15"/>
<text x="0" y="0" class="gl" style="font-size:15.40px;text-anchor:start" transform="translate(387.50 337.21) scale(0.948 1)">NTCP</text>
<line x1="499.80" y1="368.01" x2="507.10" y2="368.01" stroke="#000" stroke-width="2.5"/>
<text x="0" y="0" class="rl" style="font-size:13.20px" transform="translate(497.00 372.73) scale(1.000 1)">SPHH</text>
<line x1="499.80" y1="385.96" x2="507.10" y2="385.96" stroke="#000" stroke-width="2.5"/>
<text x="0" y="0" class="rl" style="font-size:13.20px" transform="translate(497.00 390.69) scale(1.000 1)">SPHH-5C</text>
<line x1="499.80" y1="403.91" x2="507.10" y2="403.91" stroke="#000" stroke-width="2.5"/>
<text x="0" y="0" class="rl" style="font-size:13.20px" transform="translate(497.00 408.64) scale(1.000 1)">PHH-5C</text>
<path d="M443.80 365.10 H432.50 V406.60 H443.80" fill="none" stroke="#000" stroke-width="2.15"/>
<text x="0" y="0" class="gl" style="font-size:15.40px;text-anchor:start" transform="translate(387.50 391.36) scale(0.948 1)">OAT2</text>
<line x1="499.80" y1="421.86" x2="507.10" y2="421.86" stroke="#000" stroke-width="2.5"/>
<text x="0" y="0" class="rl" style="font-size:13.20px" transform="translate(497.00 426.59) scale(1.000 1)">SPHH</text>
<line x1="499.80" y1="439.82" x2="507.10" y2="439.82" stroke="#000" stroke-width="2.5"/>
<text x="0" y="0" class="rl" style="font-size:13.20px" transform="translate(497.00 444.54) scale(1.000 1)">SPHH-5C</text>
<line x1="499.80" y1="457.77" x2="507.10" y2="457.77" stroke="#000" stroke-width="2.5"/>
<text x="0" y="0" class="rl" style="font-size:13.20px" transform="translate(497.00 462.49) scale(1.000 1)">PHH-5C</text>
<path d="M443.80 418.50 H432.50 V460.30 H443.80" fill="none" stroke="#000" stroke-width="2.15"/>
<text x="0" y="0" class="gl" style="font-size:15.40px" transform="translate(427.40 444.91) scale(0.948 1)">OATP1B1</text>
<line x1="499.80" y1="475.72" x2="507.10" y2="475.72" stroke="#000" stroke-width="2.5"/>
<text x="0" y="0" class="rl" style="font-size:13.20px" transform="translate(497.00 480.45) scale(1.000 1)">SPHH</text>
<line x1="499.80" y1="493.67" x2="507.10" y2="493.67" stroke="#000" stroke-width="2.5"/>
<text x="0" y="0" class="rl" style="font-size:13.20px" transform="translate(497.00 498.40) scale(1.000 1)">SPHH-5C</text>
<line x1="499.80" y1="511.62" x2="507.10" y2="511.62" stroke="#000" stroke-width="2.5"/>
<text x="0" y="0" class="rl" style="font-size:13.20px" transform="translate(497.00 516.35) scale(1.000 1)">PHH-5C</text>
<path d="M443.80 472.40 H432.50 V513.90 H443.80" fill="none" stroke="#000" stroke-width="2.15"/>
<text x="0" y="0" class="gl" style="font-size:15.40px;text-anchor:start" transform="translate(387.50 498.66) scale(0.948 1)">OCT1</text>
<line x1="518.05" y1="520.60" x2="518.05" y2="528.80" stroke="#000" stroke-width="2.6"/>
<text x="0" y="0" class="dl" style="font-size:13.30px" transform="translate(523.05 541.40) rotate(-45)">Day 0</text>
<line x1="539.95" y1="520.60" x2="539.95" y2="528.80" stroke="#000" stroke-width="2.6"/>
<text x="0" y="0" class="dl" style="font-size:13.30px" transform="translate(544.95 541.40) rotate(-45)">Day 4</text>
<line x1="561.85" y1="520.60" x2="561.85" y2="528.80" stroke="#000" stroke-width="2.6"/>
<text x="0" y="0" class="dl" style="font-size:13.30px" transform="translate(566.85 541.40) rotate(-45)">Day 7</text>
<line x1="583.75" y1="520.60" x2="583.75" y2="528.80" stroke="#000" stroke-width="2.6"/>
<text x="0" y="0" class="dl" style="font-size:13.30px" transform="translate(588.75 541.40) rotate(-45)">Day 14</text>
<line x1="605.65" y1="520.60" x2="605.65" y2="528.80" stroke="#000" stroke-width="2.6"/>
<text x="0" y="0" class="dl" style="font-size:13.30px" transform="translate(610.65 541.40) rotate(-45)">Day 21</text>
<defs><linearGradient id="g507" x1="0" y1="0" x2="0" y2="1"><stop offset="0.0000" stop-color="#a20000"/><stop offset="0.0782" stop-color="#a91414"/><stop offset="0.1565" stop-color="#b12727"/><stop offset="0.2347" stop-color="#b83b3b"/><stop offset="0.3130" stop-color="#c04e4e"/><stop offset="0.3912" stop-color="#c76262"/><stop offset="0.4695" stop-color="#cf7676"/><stop offset="0.5477" stop-color="#d68989"/><stop offset="0.6259" stop-color="#de9d9d"/><stop offset="0.7042" stop-color="#e5b0b0"/><stop offset="0.7824" stop-color="#edc4c4"/><stop offset="0.8607" stop-color="#f4d8d8"/><stop offset="0.9389" stop-color="#fcebeb"/><stop offset="0.9426" stop-color="#e2d9f0"/><stop offset="0.9501" stop-color="#bcb4e8"/><stop offset="0.9678" stop-color="#7c78da"/><stop offset="1.0000" stop-color="#0404c8"/></linearGradient></defs>
<rect x="639.10" y="36.00" width="21.90" height="484.60" fill="url(#g507)" stroke="#000" stroke-width="1.7"/>
<line x1="639.10" y1="62.30" x2="643.10" y2="62.30" stroke="#000" stroke-width="1.5"/>
<line x1="657.00" y1="62.30" x2="661.00" y2="62.30" stroke="#000" stroke-width="1.5"/>
<text x="0" y="0" class="cl" style="font-size:15.40px" transform="translate(669.50 67.41) scale(0.940 1)">17</text>
<line x1="639.10" y1="170.80" x2="643.10" y2="170.80" stroke="#000" stroke-width="1.5"/>
<line x1="657.00" y1="170.80" x2="661.00" y2="170.80" stroke="#000" stroke-width="1.5"/>
<text x="0" y="0" class="cl" style="font-size:15.40px" transform="translate(669.50 175.91) scale(0.940 1)">13</text>
<line x1="639.10" y1="279.40" x2="643.10" y2="279.40" stroke="#000" stroke-width="1.5"/>
<line x1="657.00" y1="279.40" x2="661.00" y2="279.40" stroke="#000" stroke-width="1.5"/>
<text x="0" y="0" class="cl" style="font-size:15.40px" transform="translate(669.50 284.51) scale(0.940 1)">9</text>
<line x1="639.10" y1="387.90" x2="643.10" y2="387.90" stroke="#000" stroke-width="1.5"/>
<line x1="657.00" y1="387.90" x2="661.00" y2="387.90" stroke="#000" stroke-width="1.5"/>
<text x="0" y="0" class="cl" style="font-size:15.40px" transform="translate(669.50 393.01) scale(0.940 1)">5</text>
<line x1="639.10" y1="496.40" x2="643.10" y2="496.40" stroke="#000" stroke-width="1.5"/>
<line x1="657.00" y1="496.40" x2="661.00" y2="496.40" stroke="#000" stroke-width="1.5"/>
<text x="0" y="0" class="cl" style="font-size:15.40px" transform="translate(669.50 501.51) scale(0.940 1)">1</text>
</svg>
</body></html>
